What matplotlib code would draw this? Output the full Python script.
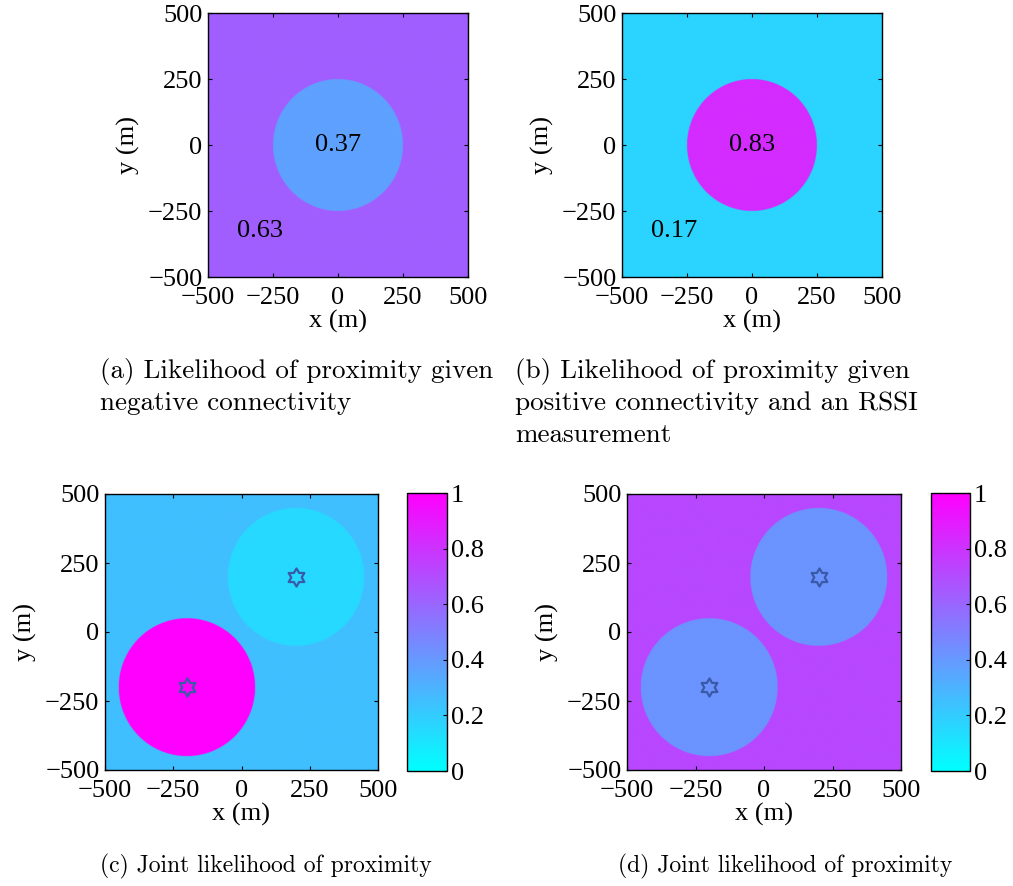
import numpy as np
import matplotlib
matplotlib.use("Agg")
import matplotlib.pyplot as plt
from matplotlib.path import Path

# field values (likelihood) for each panel
bg_values = [0.63, 0.17, 0.25, 0.72]
circle_centers = [[(0, 0)], [(0, 0)], [(-200, -200), (200, 200)], [(-200, -200), (200, 200)]]
circle_values = [[0.37], [0.83], [1.0, 0.15], [0.42, 0.42]]
radius = 250
anchors = [[], [], [(-200, -200), (200, 200)], [(-200, -200), (200, 200)]]
ticks = [-500, -250, 0, 250, 500]
cbar_ticks = [0, 0.2, 0.4, 0.6, 0.8, 1]
cbar_labels = ["0", "0.2", "0.4", "0.6", "0.8", "1"]
value_labels = [[("0.37", 0, 0), ("0.63", -300, -325)],
                [("0.83", 0, 0), ("0.17", -300, -325)], [], []]
captions = [["(a) Likelihood of proximity given", "negative connectivity"],
            ["(b) Likelihood of proximity given", "positive connectivity and an RSSI",
             "measurement"],
            ["(c) Joint likelihood of proximity"],
            ["(d) Joint likelihood of proximity"]]

plt.rcParams["font.family"] = "Liberation Serif"
plt.rcParams["font.size"] = 19

W, H = 1013, 886
fig = plt.figure(figsize=(W / 100, H / 100), dpi=100)


def px_axes(l, t, r, b):
    return fig.add_axes([l / W, 1 - b / H, (r - l) / W, (b - t) / H])


# hexagram marker shape
ang = np.deg2rad(np.arange(12) * 30 + 90)
rad = np.where(np.arange(12) % 2 == 0, 1.0, 0.58)
star = Path(np.column_stack([rad * np.cos(ang), rad * np.sin(ang)]).tolist() + [[0, 1]], closed=True)

boxes = [(208, 13, 468, 277), (622, 13, 882, 277), (105, 494, 378, 770), (627, 494, 901, 770)]
cboxes = [None, None, (407, 493, 447, 771), (931, 493, 970, 771)]

g = np.linspace(-500, 500, 1201)
X, Y = np.meshgrid(g, g)

for i in range(4):
    ax = px_axes(*boxes[i])
    Z = np.full(X.shape, bg_values[i])
    for (cx, cy), v in zip(circle_centers[i], circle_values[i]):
        Z[(X - cx) ** 2 + (Y - cy) ** 2 <= radius ** 2] = v
    im = ax.imshow(Z, origin="lower", extent=[-500, 500, -500, 500], cmap="cool",
                   vmin=0, vmax=1, aspect="auto", interpolation="bilinear")
    for (sx, sy) in anchors[i]:
        ax.plot(sx, sy, marker=star, markersize=13, markerfacecolor="none",
                markeredgecolor="#3a5aa8", markeredgewidth=1.6, linestyle="none")
    for txt, tx, ty in value_labels[i]:
        ax.text(tx, ty, txt, ha="center", va="center", fontsize=19)
    ax.set_xlim(-500, 500)
    ax.set_ylim(-500, 500)
    ax.set_xticks(ticks)
    ax.set_yticks(ticks)
    ax.tick_params(direction="in", length=3, top=True, right=True)
    ax.tick_params(axis="x", pad=7)
    ax.tick_params(axis="y", pad=4)
    ax.set_xlabel("x (m)", labelpad=1)
    ax.set_ylabel("y (m)", labelpad=6)
    for s in ax.spines.values():
        s.set_linewidth(1.0)
    if cboxes[i] is not None:
        cax = px_axes(*cboxes[i])
        cb = fig.colorbar(im, cax=cax, ticks=cbar_ticks)
        cb.ax.set_yticklabels(cbar_labels)
        cb.ax.tick_params(direction="in", length=3, pad=3)
        cb.outline.set_linewidth(1.0)

cap_pos = [(100, 378), (515, 378), (100, 872), (618, 872)]
cap_size = [19.5, 19.5, 17, 17]
for (cx, cy), lines, fs in zip(cap_pos, captions, cap_size):
    for k, line in enumerate(lines):
        fig.text(cx / W, 1 - (cy + 32 * k) / H, line, family="cmr10", fontsize=fs,
                 ha="left", va="baseline")

fig.savefig("out.png", dpi=100)
